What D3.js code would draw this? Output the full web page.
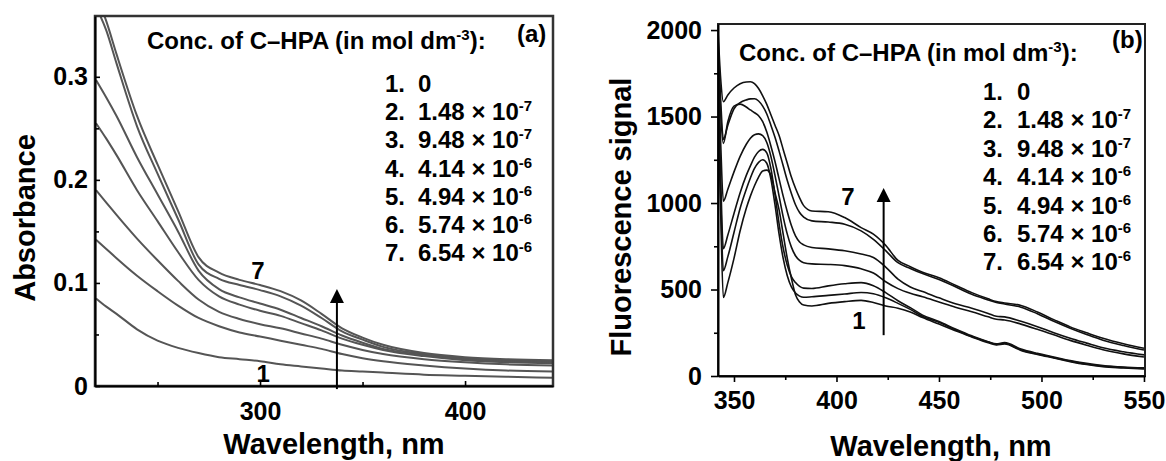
<!DOCTYPE html>
<html><head><meta charset="utf-8">
<script src="https://cdn.jsdelivr.net/npm/d3@7"></script>
<style>
body{margin:0;background:#fff;}
svg{display:block;font-family:"Liberation Sans",Arial,Helvetica,sans-serif;font-weight:bold;}
</style></head><body>
<svg id="chart" width="1166" height="461"></svg>
<script>
// ---------------- Panel (a): absorbance ----------------
const absWavelength = [220,225,230,240,250,260,270,280,290,300,310,320,330,340,350,360,380,400,420,443];
const abs1 = [0.085,0.077,0.070,0.055,0.044,0.037,0.032,0.028,0.026,0.024,0.021,0.019,0.017,0.015,0.014,0.013,0.011,0.010,0.009,0.008];
const abs2 = [0.142,0.133,0.124,0.107,0.092,0.078,0.066,0.058,0.052,0.048,0.044,0.040,0.036,0.031,0.027,0.024,0.020,0.017,0.015,0.014];
const abs3 = [0.190,0.178,0.166,0.143,0.122,0.102,0.084,0.072,0.065,0.060,0.056,0.051,0.046,0.040,0.035,0.031,0.026,0.023,0.021,0.020];
const abs4 = [0.255,0.240,0.224,0.190,0.160,0.130,0.103,0.087,0.079,0.073,0.068,0.061,0.054,0.046,0.040,0.035,0.029,0.025,0.023,0.022];
const abs5 = [0.297,0.280,0.262,0.222,0.186,0.150,0.112,0.094,0.086,0.080,0.074,0.066,0.058,0.049,0.042,0.036,0.030,0.026,0.024,0.023];
const abs6 = [0.368,0.345,0.313,0.252,0.206,0.162,0.118,0.104,0.098,0.093,0.087,0.078,0.066,0.053,0.045,0.038,0.031,0.027,0.025,0.024];
const abs7 = [0.380,0.354,0.322,0.262,0.215,0.170,0.125,0.110,0.103,0.098,0.092,0.083,0.070,0.056,0.047,0.040,0.032,0.028,0.026,0.025];
const absXDomain = [219.5, 442.9];
const absYDomain = [0, 0.359];
const absXTicks = [300, 400];
const absXTickLabels = ["300", "400"];
const absXMinor = [250, 350];
const absYTicks = [0, 0.1, 0.2, 0.3];
const absYTickLabels = ["0", "0.1", "0.2", "0.3"];
const absYMinor = [0.05, 0.15, 0.25];

// ---------------- Panel (b): fluorescence ----------------
const flWavelength = [342.2,343.5,344.8,347,350,353,356,358,360,362,364,366,368,370,372,374,376,378,380,382,384,388,396,404,412,418,424,430,436,442,450,458,466,474,478,482,490,498,506,514,522,530,540,550];
const fl1 = [1600,950,454,540,680,840,970,1040,1100,1150,1185,1190,1160,1060,960,820,680,565,470,428,410,405,420,430,437,425,405,392,370,338,300,262,225,192,180,185,148,125,104,83,66,54,47,41];
const fl2 = [1650,1050,609,690,830,970,1080,1145,1200,1235,1250,1230,1140,990,820,680,580,515,480,462,455,458,466,474,483,475,452,420,385,345,310,268,228,196,183,189,151,127,106,86,69,57,49,44];
const fl3 = [1700,1150,736,815,940,1060,1160,1215,1265,1298,1310,1290,1200,1050,880,740,640,575,540,518,508,506,521,533,540,522,482,435,395,352,315,272,232,198,186,193,156,131,110,89,73,61,52,47];
const fl4 = [1800,1350,1011,1080,1180,1270,1340,1375,1395,1400,1390,1350,1270,1160,1040,920,820,745,695,668,655,648,645,638,620,595,545,505,478,458,428,398,372,342,328,324,300,270,238,206,178,152,128,110];
const fl5 = [1900,1520,1345,1470,1560,1572,1555,1538,1522,1505,1470,1410,1330,1240,1140,1040,950,870,810,775,758,743,735,724,705,685,630,560,515,488,452,418,392,362,345,342,316,285,250,218,190,163,140,122];
const fl6 = [1960,1600,1368,1450,1545,1580,1596,1602,1603,1590,1560,1515,1450,1380,1300,1215,1130,1055,990,945,918,897,890,877,839,790,725,655,622,592,558,516,472,440,425,416,398,360,316,276,240,207,176,150];
const fl7 = [2000,1720,1586,1625,1665,1690,1700,1701,1690,1662,1620,1570,1510,1450,1390,1310,1230,1150,1085,1030,985,954,950,916,858,820,755,668,632,600,568,525,482,446,430,422,408,370,326,284,250,218,186,160];
const flXDomain = [342.2, 550.5];
const flYDomain = [0, 2035];
const flXTicks = [350, 400, 450, 500, 550];
const flXTickLabels = ["350", "400", "450", "500", "550"];
const flXMinor = [375, 425, 475, 525];
const flYTicks = [0, 500, 1000, 1500, 2000];
const flYTickLabels = ["0", "500", "1000", "1500", "2000"];
const flYMinor = [250, 750, 1250, 1750];

// ---------------- Legend (shared) ----------------
const legendTitle = "Conc. of C\u2013HPA (in mol dm";
const legendTitleExp = "-3";
const concNumbers = ["1.", "2.", "3.", "4.", "5.", "6.", "7."];
const concMantissa = ["0", "1.48 \u00d7 10", "9.48 \u00d7 10", "4.14 \u00d7 10", "4.94 \u00d7 10", "5.74 \u00d7 10", "6.54 \u00d7 10"];
const concExponent = ["", "-7", "-7", "-6", "-6", "-6", "-6"];

const svg = d3.select("#chart");

function styleAxis(g, fs) {
  g.attr("font-family", null).attr("font-size", null);
  g.selectAll("text").attr("fill", "#000").style("font-size", fs + "px").style("font-weight", "bold");
  g.selectAll("line").attr("stroke", "#000").attr("stroke-width", 1.6);
  g.select(".domain").attr("stroke", "#000").attr("stroke-width", 2);
}

function legend(g, titleX, titleY, numX, valX, baseY, step, tagText, tagX, tagY) {
  const t = g.append("text").attr("x", titleX).attr("y", titleY).style("font-size", "24px");
  t.append("tspan").text(legendTitle);
  t.append("tspan").attr("dy", -9).style("font-size", "15px").text(legendTitleExp);
  t.append("tspan").attr("dy", 9).text("):");
  g.append("text").attr("x", tagX).attr("y", tagY).style("font-size", "24px").text(tagText);
  concNumbers.forEach((n, i) => {
    const y = baseY + step * i;
    g.append("text").attr("x", numX).attr("y", y).style("font-size", "24px").text(n);
    const v = g.append("text").attr("x", valX).attr("y", y).style("font-size", "24px");
    v.append("tspan").text(concMantissa[i]);
    if (concExponent[i]) v.append("tspan").attr("dy", -9).style("font-size", "15px").text(concExponent[i]);
  });
}

function arrow(g, x, y0, yTip) {
  g.append("line").attr("x1", x).attr("x2", x).attr("y1", y0).attr("y2", yTip + 10)
    .attr("stroke", "#000").attr("stroke-width", 2);
  g.append("path").attr("d", `M${x},${yTip} L${x - 7},${yTip + 14} L${x + 7},${yTip + 14} Z`).attr("fill", "#000");
}

// ================= Panel (a) =================
{
  const P = {left: 95, right: 553, top: 16, bottom: 386};
  const x = d3.scaleLinear().domain(absXDomain).range([P.left, P.right]);
  const y = d3.scaleLinear().domain(absYDomain).range([P.bottom, P.top]);
  const g = svg.append("g");
  g.append("clipPath").attr("id", "clipA").append("rect")
    .attr("x", P.left).attr("y", P.top).attr("width", P.right - P.left).attr("height", P.bottom - P.top);

  const line = d3.line().x((d, i) => x(absWavelength[i])).y(d => y(d)).curve(d3.curveMonotoneX);
  const series = [abs1, abs2, abs3, abs4, abs5, abs6, abs7];
  g.append("g").attr("clip-path", "url(#clipA)").selectAll("path").data(series).join("path")
    .attr("d", d => line(d)).attr("fill", "none").attr("stroke", "#555").attr("stroke-width", 2);

  g.append("rect").attr("x", P.left).attr("y", P.top).attr("width", P.right - P.left).attr("height", P.bottom - P.top)
    .attr("fill", "none").attr("stroke", "#333").attr("stroke-width", 2.5);

  const xa = g.append("g").attr("transform", `translate(0,${P.bottom})`)
    .call(d3.axisBottom(x).tickValues(absXTicks).tickFormat((d, i) => absXTickLabels[i]).tickSizeInner(-5).tickSizeOuter(0));
  styleAxis(xa, 25);
  xa.selectAll("text").attr("y", 34).attr("dy", null);
  const xm = g.append("g").attr("transform", `translate(0,${P.bottom})`)
    .call(d3.axisBottom(x).tickValues(absXMinor).tickFormat("").tickSizeInner(-4).tickSizeOuter(0));
  styleAxis(xm, 25); xm.select(".domain").remove();

  const ya = g.append("g").attr("transform", `translate(${P.left},0)`)
    .call(d3.axisLeft(y).tickValues(absYTicks).tickFormat((d, i) => absYTickLabels[i]).tickSizeInner(-5).tickSizeOuter(0).tickPadding(7));
  styleAxis(ya, 25);
  const ym = g.append("g").attr("transform", `translate(${P.left},0)`)
    .call(d3.axisLeft(y).tickValues(absYMinor).tickFormat("").tickSizeInner(-4).tickSizeOuter(0));
  styleAxis(ym, 25); ym.select(".domain").remove();

  g.append("text").attr("transform", "translate(35,218) rotate(-90)").attr("text-anchor", "middle")
    .style("font-size", "29px").text("Absorbance");
  g.append("text").attr("x", 334).attr("y", 454).attr("text-anchor", "middle")
    .style("font-size", "29px").text("Wavelength, nm");

  legend(g, 147, 49, 385, 418, 92, 28.2, "(a)", 517, 42);

  g.append("text").attr("x", x(299)).attr("y", y(0.104)).attr("text-anchor", "middle").style("font-size", "24px").text("7");
  g.append("text").attr("x", x(301.5)).attr("y", y(0.004)).attr("text-anchor", "middle").style("font-size", "24px").text("1");
  arrow(g, x(337.5), y(-0.003), y(0.094));
}

// ================= Panel (b) =================
{
  const P = {left: 718, right: 1145, top: 24, bottom: 376};
  const x = d3.scaleLinear().domain(flXDomain).range([P.left, P.right]);
  const y = d3.scaleLinear().domain(flYDomain).range([P.bottom, P.top]);
  const g = svg.append("g");
  g.append("clipPath").attr("id", "clipB").append("rect")
    .attr("x", P.left).attr("y", P.top).attr("width", P.right - P.left).attr("height", P.bottom - P.top);

  const line = d3.line().x((d, i) => x(flWavelength[i])).y(d => y(d)).curve(d3.curveMonotoneX);
  const series = [fl1, fl2, fl3, fl4, fl5, fl6, fl7];
  g.append("g").attr("clip-path", "url(#clipB)").selectAll("path").data(series).join("path")
    .attr("d", d => line(d)).attr("fill", "none").attr("stroke", "#111").attr("stroke-width", 1.6);

  g.append("rect").attr("x", P.left).attr("y", P.top).attr("width", P.right - P.left).attr("height", P.bottom - P.top)
    .attr("fill", "none").attr("stroke", "#222").attr("stroke-width", 2);

  const xa = g.append("g").attr("transform", `translate(0,${P.bottom})`)
    .call(d3.axisBottom(x).tickValues(flXTicks).tickFormat((d, i) => flXTickLabels[i]).tickSizeInner(6).tickSizeOuter(0));
  styleAxis(xa, 25);
  xa.selectAll("text").attr("y", 33).attr("dy", null);
  const xm = g.append("g").attr("transform", `translate(0,${P.bottom})`)
    .call(d3.axisBottom(x).tickValues(flXMinor).tickFormat("").tickSizeInner(4).tickSizeOuter(0));
  styleAxis(xm, 25); xm.select(".domain").remove();

  const ya = g.append("g").attr("transform", `translate(${P.left},0)`)
    .call(d3.axisLeft(y).tickValues(flYTicks).tickFormat((d, i) => flYTickLabels[i]).tickSizeInner(7).tickSizeOuter(0).tickPadding(9));
  styleAxis(ya, 25);
  const ym = g.append("g").attr("transform", `translate(${P.left},0)`)
    .call(d3.axisLeft(y).tickValues(flYMinor).tickFormat("").tickSizeInner(4).tickSizeOuter(0));
  styleAxis(ym, 25); ym.select(".domain").remove();

  g.append("text").attr("transform", "translate(631,217) rotate(-90)").attr("text-anchor", "middle")
    .style("font-size", "29px").text("Fluorescence signal");
  g.append("text").attr("x", 941).attr("y", 456).attr("text-anchor", "middle")
    .style("font-size", "29px").text("Wavelength, nm");

  legend(g, 739, 61, 983, 1017, 100, 28.4, "(b)", 1112, 48);

  g.append("text").attr("x", x(405.6)).attr("y", y(988)).attr("text-anchor", "middle").style("font-size", "24px").text("7");
  g.append("text").attr("x", x(411)).attr("y", y(272)).attr("text-anchor", "middle").style("font-size", "24px").text("1");
  arrow(g, x(423), y(236), y(1087));
}
</script></body></html>
